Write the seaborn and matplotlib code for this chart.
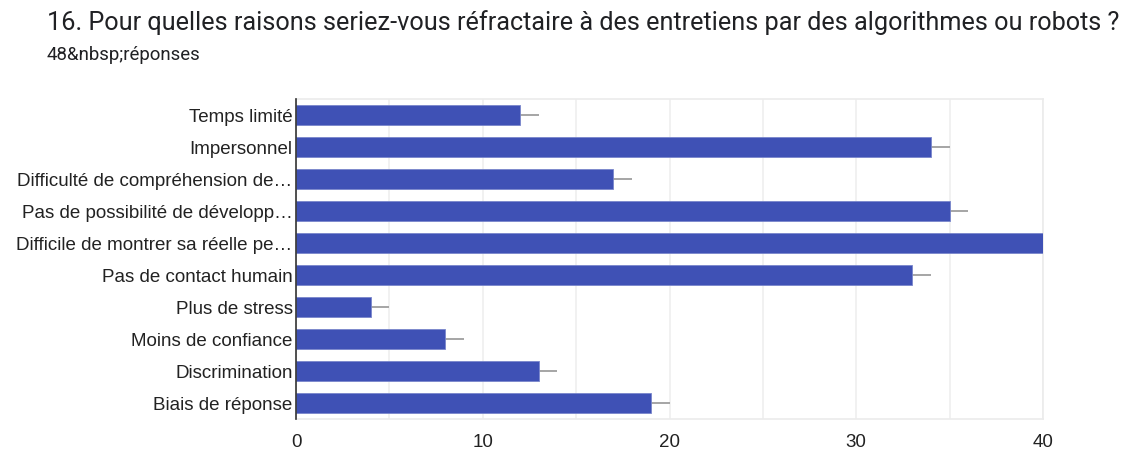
import matplotlib
matplotlib.use("Agg")
import matplotlib.pyplot as plt
import seaborn as sns
import pandas as pd
import numpy as np

categories = [
    "Temps limité",
    "Impersonnel",
    "Difficulté de compréhension de…",
    "Pas de possibilité de développ…",
    "Difficile de montrer sa réelle pe…",
    "Pas de contact humain",
    "Plus de stress",
    "Moins de confiance",
    "Discrimination",
    "Biais de réponse",
]
values = [12, 34, 17, 35, 40, 33, 4, 8, 13, 19]
err_upper = [1, 1, 1, 1, 1, 1, 1, 1, 1, 1]
x_ticks = [0, 10, 20, 30, 40]

title = "16. Pour quelles raisons seriez-vous réfractaire à des entretiens par des algorithmes ou robots ?"
subtitle = "48&nbsp;réponses"

sns.set_theme(style="white")
plt.rcParams["font.family"] = ["Liberation Sans", "DejaVu Sans"]

df = pd.DataFrame({"cat": categories, "val": values})

fig = plt.figure(figsize=(11.27, 4.5), dpi=100)
ax = fig.add_axes([296 / 1127, 1 - 419 / 450, (1043 - 296) / 1127, (419 - 99) / 450])

sns.barplot(data=df, x="val", y="cat", orient="h", color="#3F51B5",
            width=0.62, edgecolor="#7986CB", linewidth=0.6, ax=ax, zorder=3,
            saturation=1)

ypos = np.arange(len(categories))
ax.errorbar(values, ypos, xerr=[np.zeros(len(values)), err_upper], fmt="none",
            ecolor="#9e9e9e", elinewidth=1.3, capsize=0, zorder=2)

ax.set_xlim(0, 40)
ax.set_ylim(len(categories) - 0.5, -0.5)
ax.set_xticks(x_ticks)
ax.set_xticks(np.arange(0, 41, 5), minor=True)
ax.grid(True, axis="x", which="both", color="#efefef", linewidth=1.2, zorder=0)
ax.set_axisbelow(True)
ax.set_xlabel("")
ax.set_ylabel("")

ax.tick_params(axis="x", labelsize=13.5, colors="#222222", length=0, pad=11)
ax.tick_params(axis="y", labelsize=13.5, colors="#222222", length=0, pad=2.5)
ax.tick_params(which="minor", length=0)

for side in ["top", "right", "bottom"]:
    ax.spines[side].set_color("#ebebeb")
    ax.spines[side].set_linewidth(1.2)
ax.spines["left"].set_color("#333333")
ax.spines["left"].set_linewidth(1.2)
ax.spines["left"].set_zorder(5)

fig.text(47 / 1127, 1 - 23 / 450, title, fontsize=18.2, color="#202124",
         va="center", ha="left", family=["Roboto", "DejaVu Sans"])
fig.text(47 / 1127, 1 - 55 / 450, subtitle, fontsize=13.4, color="#202124",
         va="center", ha="left", family=["Roboto", "DejaVu Sans"])

fig.savefig("out.png", dpi=100, facecolor="white")
